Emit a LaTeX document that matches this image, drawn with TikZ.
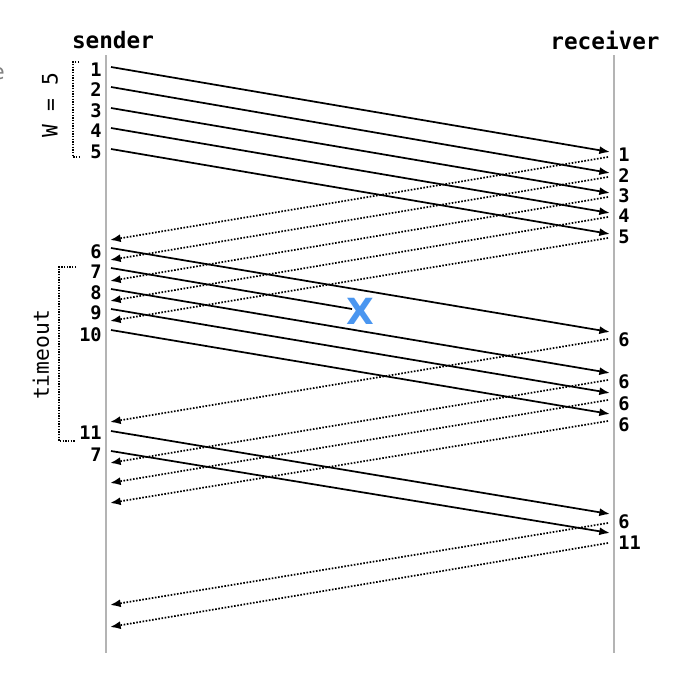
\documentclass[tikz,border=0pt]{standalone}
\usepackage{fontspec}
\setmonofont{DejaVu Sans Mono}
\setsansfont{DejaVu Sans}
\usepackage{tikz}
\usetikzlibrary{arrows.meta,positioning,calc}

\definecolor{lifeline}{RGB}{180,180,180}
\definecolor{lossblue}{RGB}{74,150,240}

\begin{document}
\begin{tikzpicture}[x=0.75pt,y=-0.75pt,
   num/.style={font=\fontsize{14}{15}\selectfont\ttfamily\bfseries,inner sep=0pt},
   head/.style={font=\fontsize{17}{18}\selectfont\ttfamily\bfseries,inner sep=0pt},
   side/.style={font=\fontsize{16}{18}\selectfont\ttfamily,inner sep=0pt,rotate=90},
   pkt/.style={line width=1.3pt,-{Latex[length=8pt,width=6pt]}},
   ack/.style={line width=1.3pt,dash pattern=on 1.2pt off 1.2pt,-{Latex[length=8pt,width=6pt]}},
   brk/.style={line width=1pt,dash pattern=on 1pt off 1pt},
   life/.style={lifeline,line width=1.6pt}]
  \useasboundingbox (0,0) rectangle (696,676);
  % cut-off letter at the left edge
  \node[font=\fontsize{16}{18}\selectfont\sffamily,text=gray,anchor=east,inner sep=0pt] (cut) at (5,74){e};
  % lifelines
  \node[head](snd) at (113,40){sender};   \node[head](rcv) at (605,40){receiver};
  \coordinate (st) at (106,55); \coordinate (sb) at (106,653);
  \coordinate (rt) at (614,55); \coordinate (rb) at (614,653);
  \draw[life] (st)--(sb); \draw[life] (rt)--(rb);
  % first window: packets 1-5
  \coordinate (s1) at (111,67);  \coordinate (r1) at (610,152);
  \coordinate (s2) at (111,87);  \coordinate (r2) at (610,173);
  \coordinate (s3) at (111,108); \coordinate (r3) at (610,193);
  \coordinate (s4) at (111,128); \coordinate (r4) at (610,213);
  \coordinate (s5) at (111,149); \coordinate (r5) at (610,234);
  \draw[pkt] (s1)--(r1); \draw[pkt] (s2)--(r2); \draw[pkt] (s3)--(r3);
  \draw[pkt] (s4)--(r4); \draw[pkt] (s5)--(r5);
  \node[num,anchor=east](ls1) at (102,70){1};  \node[num,anchor=east](ls2) at (102,90){2};
  \node[num,anchor=east](ls3) at (102,111){3}; \node[num,anchor=east](ls4) at (102,131){4};
  \node[num,anchor=east](ls5) at (102,152){5};
  \node[num,anchor=west](lr1) at (618,155){1}; \node[num,anchor=west](lr2) at (618,176){2};
  \node[num,anchor=west](lr3) at (618,196){3}; \node[num,anchor=west](lr4) at (618,216){4};
  \node[num,anchor=west](lr5) at (618,237){5};
  % acks 1-5
  \coordinate (a1) at (608,157); \coordinate (b1) at (110,240);
  \coordinate (a2) at (608,177); \coordinate (b2) at (110,260);
  \coordinate (a3) at (608,197); \coordinate (b3) at (110,281);
  \coordinate (a4) at (608,217); \coordinate (b4) at (110,301);
  \coordinate (a5) at (608,238); \coordinate (b5) at (110,321);
  \draw[ack] (a1)--(b1); \draw[ack] (a2)--(b2); \draw[ack] (a3)--(b3);
  \draw[ack] (a4)--(b4); \draw[ack] (a5)--(b5);
  % second window: packets 6-10, 7 is lost
  \coordinate (s6) at (111,248);  \coordinate (r6) at (610,332);
  \coordinate (s7) at (111,268);  \coordinate (x7) at (352,309);
  \coordinate (s8) at (111,289);  \coordinate (r8) at (610,373);
  \coordinate (s9) at (111,309);  \coordinate (r9) at (610,393);
  \coordinate (s10) at (111,330); \coordinate (r10) at (610,414);
  \draw[pkt] (s6)--(r6); \draw[line width=1.3pt] (s7)--(x7);
  \draw[pkt] (s8)--(r8); \draw[pkt] (s9)--(r9); \draw[pkt] (s10)--(r10);
  \node[font=\fontsize{27}{28}\selectfont\sffamily\bfseries,text=lossblue,inner sep=0pt](lost) at (360,311){X};
  \node[num,anchor=east](ls6) at (102,252){6};   \node[num,anchor=east](ls7) at (102,272){7};
  \node[num,anchor=east](ls8) at (102,293){8};   \node[num,anchor=east](ls9) at (102,313){9};
  \node[num,anchor=east](ls10) at (102,335){10};
  \node[num,anchor=west](lr6) at (618,340){6};   \node[num,anchor=west](lr8) at (618,382){6};
  \node[num,anchor=west](lr9) at (618,404){6};   \node[num,anchor=west](lr10) at (618,425){6};
  % duplicate acks 6
  \coordinate (a6) at (608,339);  \coordinate (b6) at (110,422);
  \coordinate (a8) at (608,380);  \coordinate (b8) at (110,463);
  \coordinate (a9) at (608,400);  \coordinate (b9) at (110,483);
  \coordinate (a10) at (608,421); \coordinate (b10) at (110,503);
  \draw[ack] (a6)--(b6); \draw[ack] (a8)--(b8); \draw[ack] (a9)--(b9); \draw[ack] (a10)--(b10);
  % packet 11, then retransmitted 7
  \coordinate (s11) at (111,431); \coordinate (r11) at (610,514);
  \coordinate (s7b) at (111,451); \coordinate (r7b) at (610,533);
  \draw[pkt] (s11)--(r11); \draw[pkt] (s7b)--(r7b);
  \node[num,anchor=east](ls11) at (102,433){11}; \node[num,anchor=east](ls7b) at (102,455){7};
  \node[num,anchor=west](lr11) at (618,522){6};  \node[num,anchor=west](lr7b) at (618,543){11};
  \coordinate (a11) at (608,523); \coordinate (b11) at (110,605);
  \coordinate (a7b) at (608,543); \coordinate (b7b) at (110,627);
  \draw[ack] (a11)--(b11); \draw[ack] (a7b)--(b7b);
  % brackets
  \coordinate (w1) at (79,62); \coordinate (w2) at (73,62);
  \coordinate (w3) at (73,157); \coordinate (w4) at (79,157);
  \draw[brk] (w1)--(w2)--(w3)--(w4);
  \node[side](win) at (50,105){W = 5};
  \coordinate (t1) at (76,267); \coordinate (t2) at (59,267);
  \coordinate (t3) at (59,441); \coordinate (t4) at (76,441);
  \draw[brk] (t1)--(t2)--(t3)--(t4);
  \node[side](tmo) at (41,355){timeout};
\end{tikzpicture}
\end{document}
